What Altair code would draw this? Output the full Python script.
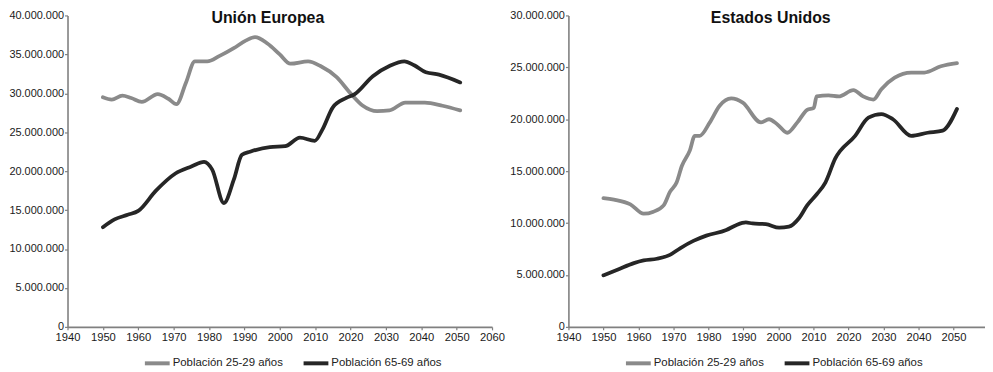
import altair as alt
import pandas as pd

SERIES = ["Población 25-29 años", "Población 65-69 años"]
COLORS = ["#8a8a8a", "#262626"]

# Unión Europea (values in millions)
eu_young_years = [1950, 1952.5, 1955.5, 1958, 1961, 1965.5, 1968.5, 1970.8, 1973.5, 1976,
                  1979.5, 1983, 1987, 1990.5, 1993, 1996.5, 2000, 2003, 2008, 2011.5,
                  2016, 2020, 2023.5, 2027.5, 2031, 2035.5, 2041, 2046, 2051]
eu_young_vals = [29.5, 29.2, 29.7, 29.4, 28.9, 29.9, 29.3, 28.6, 31.4, 34.1,
                 34.1, 34.8, 35.8, 36.8, 37.2, 36.4, 35.0, 33.8, 34.1, 33.5,
                 32.1, 30.0, 28.4, 27.7, 27.8, 28.8, 28.8, 28.4, 27.8]

eu_old_years = [1950, 1953.3, 1957, 1960, 1965, 1970.5, 1975, 1978.6, 1980.9, 1984.2,
                1987, 1989.3, 1991.6, 1997.2, 2001.5, 2005.7, 2009.9, 2012, 2015,
                2018.8, 2021.2, 2026.3, 2031, 2035.2, 2038, 2041.3, 2045, 2051]
eu_old_vals = [12.8, 13.8, 14.4, 14.9, 17.5, 19.7, 20.6, 21.2, 20.2, 15.9,
               18.9, 22.1, 22.5, 23.1, 23.2, 24.3, 23.9, 25.3, 28.2,
               29.4, 29.9, 32.2, 33.5, 34.1, 33.6, 32.7, 32.4, 31.4]

# Estados Unidos (values in millions)
us_young_years = [1950, 1953, 1957.7, 1961.5, 1964.3, 1967.2, 1969, 1970.9, 1972.4, 1974.7,
                  1976.1, 1977.5, 1980.4, 1983.2, 1986.5, 1989.8, 1995, 1997.3, 1999.7,
                  2002.5, 2005.4, 2008.2, 2010.1, 2010.9, 2014.3, 2017.2, 2021.4, 2024.2,
                  2027.1, 2029.4, 2033.2, 2037.9, 2041.7, 2046.4, 2051]
us_young_vals = [12.4, 12.25, 11.8, 10.9, 11.1, 11.7, 13.0, 13.9, 15.5, 17.0,
                 18.4, 18.4, 19.7, 21.3, 22.0, 21.6, 19.7, 20.0, 19.5,
                 18.7, 19.7, 20.9, 21.1, 22.2, 22.3, 22.2, 22.8, 22.2,
                 21.9, 22.9, 24.0, 24.5, 24.5, 25.1, 25.4]

us_old_years = [1950, 1954, 1958.7, 1961.5, 1965.3, 1969, 1971.9, 1975.7, 1979.4, 1985.1,
                1987.9, 1990.7, 1992.6, 1996.4, 2000.2, 2003, 2005.8, 2008.2, 2011,
                2013.4, 2016.2, 2021.9, 2025.7, 2029.4, 2032.7, 2037.9, 2042.6, 2046.9, 2051]
us_old_vals = [4.97, 5.5, 6.14, 6.4, 6.56, 6.94, 7.57, 8.28, 8.79, 9.33,
               9.8, 10.06, 9.96, 9.9, 9.55, 9.65, 10.44, 11.7, 12.8,
               13.9, 16.2, 18.4, 20.15, 20.5, 20.0, 18.4, 18.7, 18.9, 21.0]


def frame(young_years, young_vals, old_years, old_vals):
    rows = []
    for y, v in zip(young_years, young_vals):
        rows.append({"year": y, "value": v * 1e6, "serie": SERIES[0]})
    for y, v in zip(old_years, old_vals):
        rows.append({"year": y, "value": v * 1e6, "serie": SERIES[1]})
    return pd.DataFrame(rows)


eu_df = frame(eu_young_years, eu_young_vals, eu_old_years, eu_old_vals)
us_df = frame(us_young_years, us_young_vals, us_old_years, us_old_vals)

LABEL_EXPR = "replace(format(datum.value, ','), regexp(',', 'g'), '.')"


def panel(df, title, ymax, ystep, xdomain, xticks, width, legend_x, title_dx):
    return alt.Chart(df).mark_line(
        strokeWidth=3.8, interpolate="monotone", strokeCap="round"
    ).encode(
        x=alt.X("year:Q",
                scale=alt.Scale(domain=xdomain, nice=False, zero=False),
                axis=alt.Axis(values=xticks, format="d", title=None,
                              labelOverlap=False, labelFlush=False,
                              labelPadding=2, labelFontSize=11.3)),
        y=alt.Y("value:Q",
                scale=alt.Scale(domain=[0, ymax], nice=False),
                axis=alt.Axis(values=list(range(0, ymax + 1, ystep)),
                              labelExpr=LABEL_EXPR, title=None,
                              labelOverlap=False)),
        color=alt.Color("serie:N",
                        scale=alt.Scale(domain=SERIES, range=COLORS),
                        legend=alt.Legend(orient="none", direction="horizontal",
                                          legendX=legend_x, legendY=336,
                                          title=None, symbolType="stroke",
                                          symbolSize=625, symbolStrokeWidth=4,
                                          labelFontSize=11.5, labelOffset=1,
                                          columnPadding=12,
                                          labelColor="#222222")),
        order=alt.Order("year:Q"),
    ).properties(
        width=width, height=314,
        title=alt.TitleParams(title, fontSize=16, fontWeight="bold",
                              font="Liberation Sans", color="#111111",
                              anchor="middle", dx=title_dx, offset=-17),
    )


left = panel(eu_df, "Unión Europea", 40000000, 5000000, [1940, 2060],
             list(range(1940, 2061, 10)), 428, 76, -12)
right = panel(us_df, "Estados Unidos", 30000000, 5000000, [1940, 2059],
              list(range(1940, 2051, 10)), 420, 56, -6)

chart = alt.hconcat(left, right, spacing=4).resolve_legend(
    color="independent"
).resolve_scale(color="independent").properties(
    padding={"left": 0, "top": 0, "right": 0, "bottom": 0}
).configure(
    font="Liberation Sans"
).configure_view(
    stroke=None
).configure_axis(
    grid=False,
    domainColor="#808080", domainWidth=1.6,
    tickColor="#808080", tickSize=3, tickWidth=1.2,
    labelColor="#1a1a1a", labelFontSize=11, labelPadding=1,
    labelFont="Liberation Sans",
).configure_legend(
    labelFont="Liberation Sans"
)

chart.save("out.html", embed_options={"renderer": "svg", "actions": False})
